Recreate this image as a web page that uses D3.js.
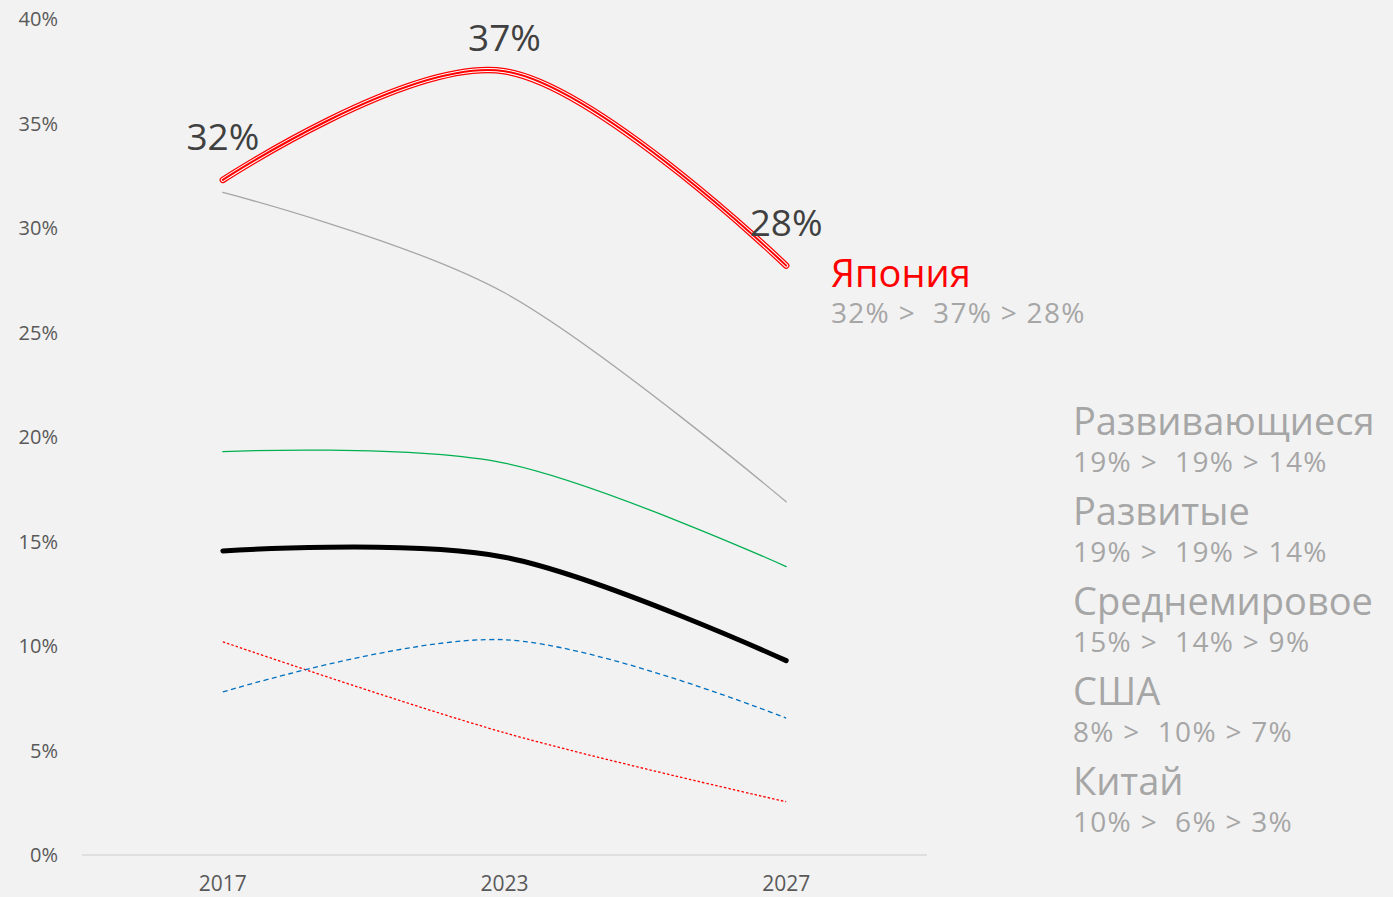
<!DOCTYPE html>
<html>
<head>
<meta charset="utf-8">
<script src="https://cdn.jsdelivr.net/npm/d3@7"></script>
<style>
  html, body { margin: 0; padding: 0; background: #f2f2f2; }
  text { white-space: pre; }
</style>
</head>
<body>
<div id="chart"></div>
<script>
// data
var years = ["2017", "2023", "2027"];
var yTicks = [0, 5, 10, 15, 20, 25, 30, 35, 40];

var japanValues = [32.3, 37.5, 28.2];
var japanLabels = ["32%", "37%", "28%"];

var grayValues = [31.7, 26.9, 16.9];
var greenValues = [19.3, 18.75, 13.8];
var worldValues = [14.55, 14.25, 9.3];
var usaValues = [7.8, 10.3, 6.55];
var chinaValues = [10.2, 5.85, 2.55];

var legendNames = ["Развивающиеся", "Развитые", "Среднемировое", "США", "Китай"];
var legendTexts = [
  "19% >  19% > 14%",
  "19% >  19% > 14%",
  "15% >  14% > 9%",
  "8% >  10% > 7%",
  "10% >  6% > 3%"
];
var japanName = "Япония";
var japanText = "32% >  37% > 28%";

var width = 1393,
  height = 897;

var svg = d3
  .select("#chart")
  .append("svg")
  .attr("width", width)
  .attr("height", height)
  .style("display", "block");

svg.append("rect").attr("width", width).attr("height", height).attr("fill", "#f2f2f2");

var x = d3.scalePoint().domain(years).range([82, 927]).padding(0.5);
var y = d3.scaleLinear().domain([0, 40]).range([855, 19]);

// baseline
svg
  .append("line")
  .attr("x1", 82)
  .attr("x2", 927)
  .attr("y1", y(0))
  .attr("y2", y(0))
  .attr("stroke", "#d9d9d9")
  .attr("stroke-width", 1.5);

// y tick labels
svg
  .append("g")
  .selectAll("text")
  .data(yTicks)
  .enter()
  .append("text")
  .attr("x", 58)
  .attr("y", function (d) { return y(d); })
  .attr("dy", "0.35em")
  .attr("text-anchor", "end")
  .attr("font-family", "'Liberation Sans Narrow', 'Open Sans', sans-serif")
  .attr("font-size", 20)
  .attr("fill", "#595959")
  .text(function (d) { return d + "%"; });

// x tick labels
svg
  .append("g")
  .selectAll("text")
  .data(years)
  .enter()
  .append("text")
  .attr("x", function (d) { return x(d); })
  .attr("y", 891)
  .attr("text-anchor", "middle")
  .attr("font-family", "'Liberation Sans Narrow', 'Open Sans', sans-serif")
  .attr("font-size", 21)
  .attr("fill", "#595959")
  .text(function (d) { return d; });

var line = d3
  .line()
  .x(function (d, i) { return x(years[i]); })
  .y(function (d) { return y(d); })
  .curve(d3.curveCardinal.tension(0));

function drawLine(values, color, w, dash) {
  var p = svg
    .append("path")
    .attr("d", line(values))
    .attr("fill", "none")
    .attr("stroke", color)
    .attr("stroke-width", w)
    .attr("stroke-linecap", dash ? "butt" : "round");
  if (dash) p.attr("stroke-dasharray", dash);
  return p;
}

drawLine(grayValues, "#a6a6a6", 1.3);
drawLine(greenValues, "#00b050", 1.3);
drawLine(chinaValues, "#ff0000", 1.3, "2.5,2");
drawLine(usaValues, "#0070c0", 1.3, "5,3.5");
drawLine(worldValues, "#000000", 5);

// Japan: compound red / white line
drawLine(japanValues, "#ff0000", 6.5);
drawLine(japanValues, "#ffffff", 4);
drawLine(japanValues, "#ff0000", 2);

// Japan value labels
var labelOffsets = [[0, -30], [0, -20], [0, -30]];
svg
  .append("g")
  .selectAll("text")
  .data(japanValues)
  .enter()
  .append("text")
  .attr("x", function (d, i) { return x(years[i]) + labelOffsets[i][0]; })
  .attr("y", function (d, i) { return y(d) + labelOffsets[i][1]; })
  .attr("text-anchor", "middle")
  .attr("font-family", "'Open Sans', sans-serif")
  .attr("font-size", 37)
  .attr("fill", "#404040")
  .text(function (d, i) { return japanLabels[i]; });

// Japan legend
svg
  .append("text")
  .attr("x", 831)
  .attr("y", 287)
  .attr("font-family", "'Open Sans', sans-serif")
  .attr("font-size", 38)
  .attr("fill", "#ff0000")
  .text(japanName);
svg
  .append("text")
  .attr("x", 831)
  .attr("y", 323)
  .attr("font-family", "'Open Sans', sans-serif")
  .attr("font-size", 28)
  .attr("letter-spacing", 1.3)
  .attr("fill", "#a6a6a6")
  .text(japanText);

// other legend entries
var legend = svg
  .append("g")
  .selectAll("g")
  .data(legendNames)
  .enter()
  .append("g")
  .attr("transform", function (d, i) { return "translate(1073," + (435 + i * 90) + ")"; });

legend
  .append("text")
  .attr("font-family", "'Open Sans', sans-serif")
  .attr("font-size", 38)
  .attr("fill", "#a6a6a6")
  .text(function (d) { return d; });

legend
  .append("text")
  .attr("y", 37)
  .attr("font-family", "'Open Sans', sans-serif")
  .attr("font-size", 28)
  .attr("letter-spacing", 1.3)
  .attr("fill", "#a6a6a6")
  .text(function (d, i) { return legendTexts[i]; });
</script>
</body>
</html>
